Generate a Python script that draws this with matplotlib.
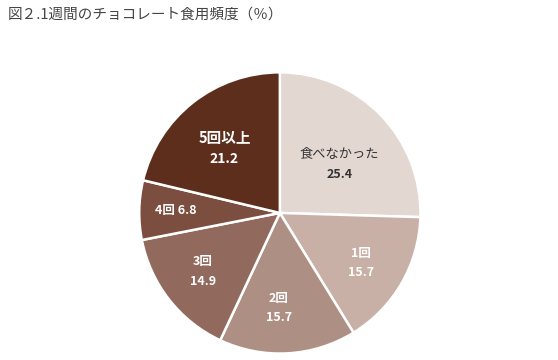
import numpy as np
import matplotlib.pyplot as plt

plt.rcParams['font.family'] = ['Noto Sans CJK JP', 'DejaVu Sans']

categories = ["食べなかった", "1回", "2回", "3回", "4回", "5回以上"]
values = [25.4, 15.7, 15.7, 14.9, 6.8, 21.2]
colors = ["#E3D7D2", "#C9B0A7", "#AE8F84", "#926A5D", "#7B4E40", "#5E2E1D"]

fig = plt.figure(figsize=(5.58, 3.6), dpi=100)
ax = fig.add_axes([0.247, 0.014, 0.509, 0.789])

wedges, _ = ax.pie(values, colors=colors, startangle=90, counterclock=False,
                   wedgeprops=dict(edgecolor="white", linewidth=1.8))
ax.set_xlim(-1.01, 1.01)
ax.set_ylim(-1.01, 1.01)
ax.set_aspect("equal")

# label placement: radius fraction and small angle tweak per slice
dist = [0.545, 0.676, 0.676, 0.688, 0.74, 0.604]
tweak = [-5, -1.7, -3.8, -0.7, 0, 2.4]
for i, w in enumerate(wedges):
    ang = np.deg2rad((w.theta1 + w.theta2) / 2 + tweak[i])
    x, y = dist[i] * np.cos(ang), dist[i] * np.sin(ang)
    name, val = categories[i], f"{values[i]:.1f}"
    if i == 0:
        ax.text(x, y + 0.07, name, ha="center", va="center", fontsize=9.5, color="#333333")
        ax.text(x, y - 0.07, val, ha="center", va="center", fontsize=9,
                fontweight="bold", color="#333333")
    elif i == 5:
        ax.text(x, y + 0.077, name, ha="center", va="center", fontsize=10.5,
                fontweight="bold", color="white")
        ax.text(x, y - 0.077, val, ha="center", va="center", fontsize=10,
                fontweight="bold", color="white")
    elif i == 4:
        ax.text(x, y, f"{name} {val}", ha="center", va="center", fontsize=9,
                fontweight="bold", color="white")
    else:
        ax.text(x, y + 0.07, name, ha="center", va="center", fontsize=9,
                fontweight="bold", color="white")
        ax.text(x, y - 0.07, val, ha="center", va="center", fontsize=9,
                fontweight="bold", color="white")

fig.text(0.014, 0.96, "図２.1週間のチョコレート食用頻度（％）", ha="left", va="center",
         fontsize=10.5, color="#444444")

fig.savefig("out.png", dpi=100)
